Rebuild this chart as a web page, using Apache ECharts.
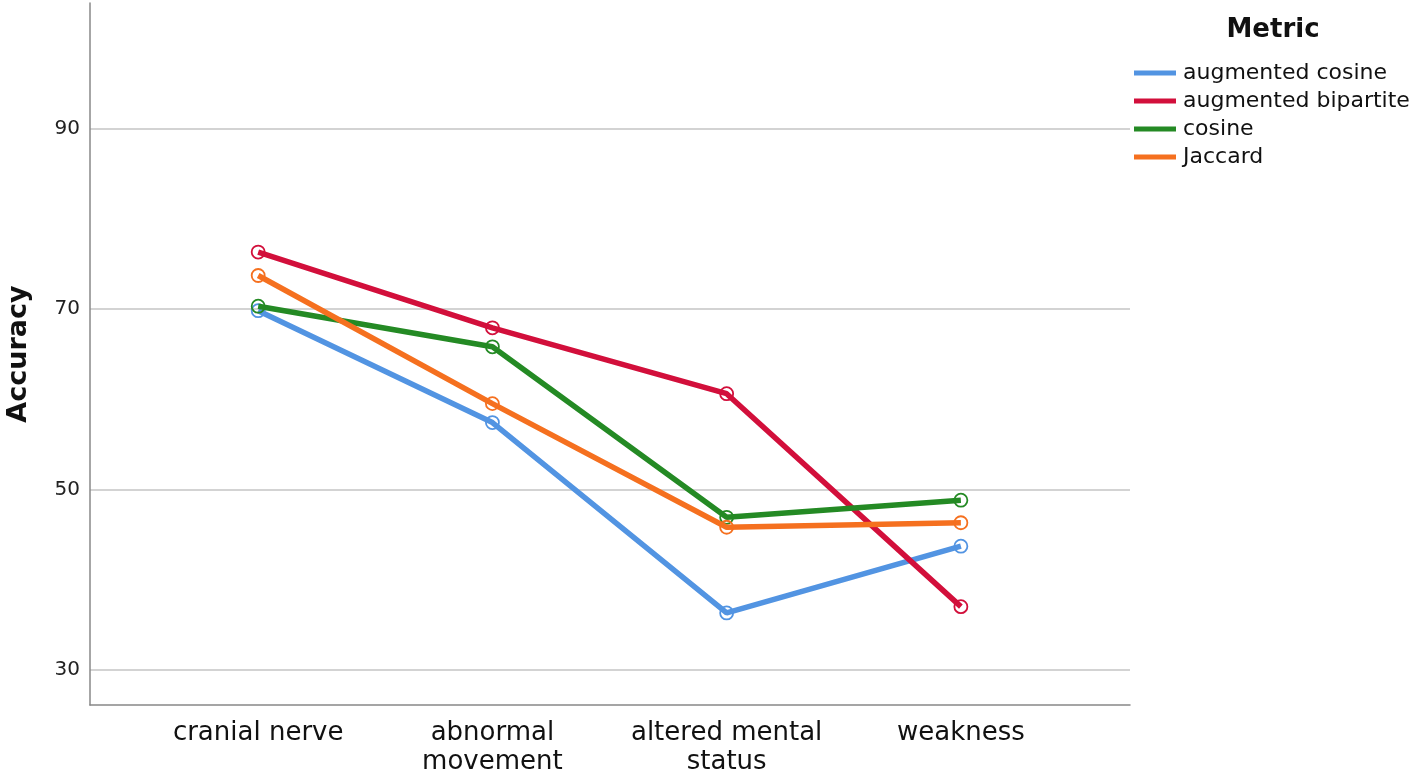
<!DOCTYPE html>
<html><head><meta charset="utf-8">
<script src="https://cdn.jsdelivr.net/npm/echarts@6/dist/echarts.min.js"></script>
<style>html,body{margin:0;padding:0;background:#fff}#c{width:1418px;height:776px}</style>
</head><body><div id="c"></div>
<script>
const categories = ['cranial nerve', 'abnormal\nmovement', 'altered mental\nstatus', 'weakness'];
const seriesNames = ['augmented cosine', 'augmented bipartite', 'cosine', 'Jaccard'];
const augmentedCosine = [69.8, 57.4, 36.3, 43.7];
const augmentedBipartite = [76.3, 67.9, 60.6, 37.0];
const cosine = [70.3, 65.8, 46.9, 48.8];
const jaccard = [73.7, 59.5, 45.8, 46.3];
const yTicks = [30, 50, 70, 90];
const colors = ['#5294E2', '#D20F3B', '#248A24', '#F5701F'];

const allValues = [augmentedCosine, augmentedBipartite, cosine, jaccard];
const chart = echarts.init(document.getElementById('c'), null, {renderer: 'canvas'});
const series = allValues.map((vals, i) => ({
  name: seriesNames[i],
  type: 'line',
  data: vals.map((v, j) => [j, v]),
  symbol: 'circle',
  symbolSize: 13,
  lineStyle: {color: colors[i], width: 5.5},
  itemStyle: {color: 'rgba(255,255,255,0)', borderColor: colors[i], borderWidth: 1.8},
  emphasis: {disabled: true},
  z: 2 + i
}));
chart.setOption({
  animation: false,
  backgroundColor: '#fff',
  grid: {left: 90, right: 288, top: 3, bottom: 71, outerBoundsMode: 'none', containLabel: false},
  title: {text: 'Metric', left: 1268, top: 12, textAlign: 'center',
    textStyle: {fontFamily: 'DejaVu Sans', fontSize: 26, fontWeight: 'bold', color: '#111'}},
  legend: {
    orient: 'vertical', left: 1129, top: 57, itemGap: 6,
    icon: 'rect', itemWidth: 42, itemHeight: 5,
    textStyle: {fontFamily: 'DejaVu Sans', fontSize: 22, color: '#111', padding: [0, 0, 0, 2]},
    data: seriesNames.map((n, i) => ({name: n, itemStyle: {color: colors[i], borderWidth: 0}}))
  },
  xAxis: {
    type: 'value', min: -0.718, max: 3.722,
    axisLine: {show: true, onZero: false, lineStyle: {color: '#888', width: 1.5}},
    axisTick: {show: false, customValues: [0, 1, 2, 3]},
    splitLine: {show: false},
    axisLabel: {
      customValues: [0, 1, 2, 3],
      formatter: v => categories[Math.round(v)],
      fontFamily: 'DejaVu Sans', fontSize: 26, color: '#111',
      lineHeight: 29, margin: 14
    }
  },
  yAxis: {
    type: 'value', min: 26.1, max: 103.9,
    name: 'Accuracy', nameLocation: 'middle', nameGap: 58, nameRotate: 90,
    nameTextStyle: {fontFamily: 'DejaVu Sans', fontSize: 27, fontWeight: 'bold', color: '#111'},
    axisLine: {show: true, onZero: false, lineStyle: {color: '#888', width: 1.5}},
    axisTick: {show: false, customValues: yTicks},
    axisLabel: {customValues: yTicks, fontFamily: 'DejaVu Sans', fontSize: 20, color: '#222', margin: 10},
    splitLine: {show: true, lineStyle: {color: '#c4c4c4', width: 1.5}}
  },
  series: series
});
</script></body></html>
